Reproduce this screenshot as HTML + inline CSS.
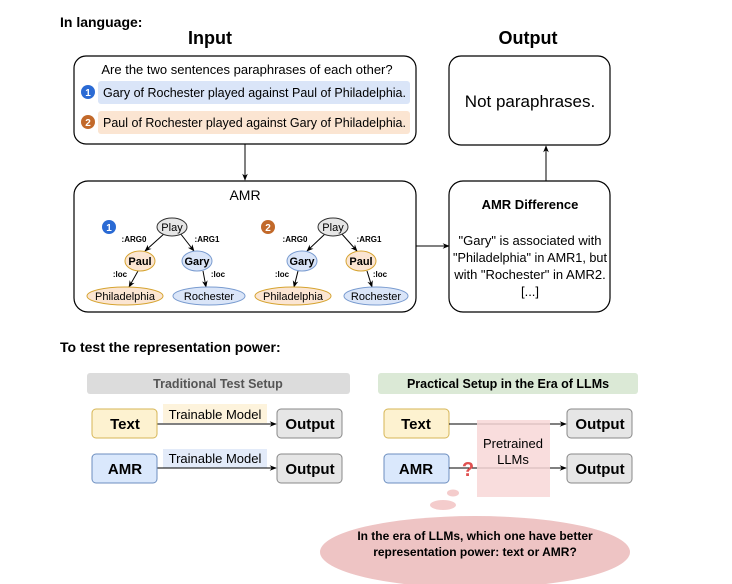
<!DOCTYPE html>
<html><head><meta charset="utf-8"><style>
body{margin:0;background:#fff;width:732px;height:584px;overflow:hidden}
svg{display:block}
text{font-family:"Liberation Sans",Arial,sans-serif;fill:#000}
.b{font-weight:bold}
</style></head><body>
<svg width="732" height="584" viewBox="0 0 732 584" xmlns="http://www.w3.org/2000/svg">
<defs>
<marker id="a" viewBox="0 0 10 10" refX="9" refY="5" markerWidth="7" markerHeight="7" orient="auto"><path d="M0,1 L10,5 L0,9 L3,5z" fill="#000"/></marker>
</defs>
<text x="60" y="27" font-size="14" class="b">In language:</text>
<text x="210" y="44" font-size="18" class="b" text-anchor="middle">Input</text>
<text x="528" y="44" font-size="18" class="b" text-anchor="middle">Output</text>

<rect x="74" y="56" width="342" height="88" rx="12" fill="#fff" stroke="#000" stroke-width="1.2"/>
<text x="247" y="74" font-size="13" text-anchor="middle">Are the two sentences paraphrases of each other?</text>
<rect x="98" y="81" width="312" height="23" rx="3" fill="#dae5f8"/>
<rect x="98" y="111" width="312" height="23" rx="3" fill="#fbe5d2"/>
<circle cx="88" cy="92" r="7" fill="#2a6ad4"/><text x="88" y="96" font-size="10" class="b" text-anchor="middle" style="fill:#fff">1</text>
<circle cx="88" cy="122" r="7" fill="#c2692a"/><text x="88" y="126" font-size="10" class="b" text-anchor="middle" style="fill:#fff">2</text>
<text x="103" y="97" font-size="13" textLength="303" lengthAdjust="spacingAndGlyphs">Gary of Rochester played against Paul of Philadelphia.</text>
<text x="103" y="127" font-size="13" textLength="303" lengthAdjust="spacingAndGlyphs">Paul of Rochester played against Gary of Philadelphia.</text>

<line x1="245" y1="144" x2="245" y2="180" stroke="#000" marker-end="url(#a)"/>

<rect x="449" y="56" width="161" height="89" rx="12" fill="#fff" stroke="#000" stroke-width="1.2"/>
<text x="530" y="107" font-size="17" text-anchor="middle">Not paraphrases.</text>
<line x1="546" y1="181" x2="546" y2="146" stroke="#000" marker-end="url(#a)"/>

<rect x="74" y="181" width="342" height="131" rx="14" fill="#fff" stroke="#000" stroke-width="1.2"/>
<text x="245" y="200" font-size="14" text-anchor="middle">AMR</text>
<line x1="416" y1="246" x2="449" y2="246" stroke="#000" marker-end="url(#a)"/>

<rect x="449" y="181" width="161" height="131" rx="14" fill="#fff" stroke="#000" stroke-width="1.2"/>
<text x="530" y="209" font-size="13" class="b" text-anchor="middle">AMR Difference</text>
<g font-size="13" text-anchor="middle">
<text x="530" y="245">"Gary" is associated with</text>
<text x="530" y="262" textLength="154" lengthAdjust="spacingAndGlyphs">"Philadelphia" in AMR1, but</text>
<text x="530" y="279">with "Rochester" in AMR2.</text>
<text x="530" y="296">[...]</text>
</g>

<g stroke="#000" stroke-width="1">
<line x1="165" y1="233" x2="145" y2="251" marker-end="url(#a)"/>
<line x1="180" y1="233" x2="194" y2="251" marker-end="url(#a)"/>
<line x1="138" y1="271" x2="129" y2="287" marker-end="url(#a)"/>
<line x1="203" y1="271" x2="206" y2="287" marker-end="url(#a)"/>
<line x1="326" y1="233" x2="307" y2="251" marker-end="url(#a)"/>
<line x1="341" y1="233" x2="357" y2="251" marker-end="url(#a)"/>
<line x1="298" y1="271" x2="294" y2="287" marker-end="url(#a)"/>
<line x1="367" y1="271" x2="372" y2="287" marker-end="url(#a)"/>
</g>
<circle cx="109" cy="227" r="7" fill="#2a6ad4"/><text x="109" y="231" font-size="10" class="b" text-anchor="middle" style="fill:#fff">1</text>
<circle cx="268" cy="227" r="7" fill="#c2692a"/><text x="268" y="231" font-size="10" class="b" text-anchor="middle" style="fill:#fff">2</text>
<g stroke-width="1">
<ellipse cx="172" cy="227" rx="15" ry="9" fill="#e6e6e6" stroke="#333"/>
<ellipse cx="333" cy="227" rx="15" ry="9" fill="#e6e6e6" stroke="#333"/>
<ellipse cx="140" cy="261" rx="15" ry="10" fill="#fbe5d2" stroke="#d6a431"/>
<ellipse cx="197" cy="261" rx="15" ry="10" fill="#dae5f8" stroke="#7a9cd0"/>
<ellipse cx="302" cy="261" rx="15" ry="10" fill="#dae5f8" stroke="#7a9cd0"/>
<ellipse cx="361" cy="261" rx="15" ry="10" fill="#fbe5d2" stroke="#d6a431"/>
<ellipse cx="125" cy="296" rx="38" ry="9" fill="#fbe5d2" stroke="#d6a431"/>
<ellipse cx="209" cy="296" rx="36" ry="9" fill="#dae5f8" stroke="#7a9cd0"/>
<ellipse cx="293" cy="296" rx="38" ry="9" fill="#fbe5d2" stroke="#d6a431"/>
<ellipse cx="376" cy="296" rx="32" ry="9" fill="#dae5f8" stroke="#7a9cd0"/>
</g>
<g font-size="11" text-anchor="middle">
<text x="172" y="231">Play</text><text x="333" y="231">Play</text>
<text x="140" y="265" class="b">Paul</text><text x="197" y="265" class="b">Gary</text>
<text x="302" y="265" class="b">Gary</text><text x="361" y="265" class="b">Paul</text>
<text x="125" y="300">Philadelphia</text><text x="209" y="300">Rochester</text>
<text x="293" y="300">Philadelphia</text><text x="376" y="300">Rochester</text>
</g>
<g font-size="8" class="b" text-anchor="middle">
<text x="134" y="242">:ARG0</text><text x="207" y="242">:ARG1</text>
<text x="295" y="242">:ARG0</text><text x="369" y="242">:ARG1</text>
<text x="120" y="277">:loc</text><text x="218" y="277">:loc</text>
<text x="282" y="277">:loc</text><text x="380" y="277">:loc</text>
</g>

<text x="60" y="352" font-size="14" class="b">To test the representation power:</text>
<rect x="87" y="373" width="263" height="21" rx="3" fill="#dcdcdc"/>
<text x="218" y="388" font-size="12.5" class="b" text-anchor="middle" style="fill:#555">Traditional Test Setup</text>
<rect x="378" y="373" width="260" height="21" rx="3" fill="#dbe9d6"/>
<text x="508" y="388" font-size="12.5" class="b" text-anchor="middle">Practical Setup in the Era of LLMs</text>

<rect x="163" y="404" width="104" height="19" fill="#fdf3dc"/>
<rect x="163" y="449" width="104" height="19" fill="#e3ebf9"/>
<text x="215" y="419" font-size="13" text-anchor="middle">Trainable Model</text>
<text x="215" y="463" font-size="13" text-anchor="middle">Trainable Model</text>
<line x1="157" y1="424" x2="276" y2="424" stroke="#000" marker-end="url(#a)"/>
<line x1="157" y1="468" x2="276" y2="468" stroke="#000" marker-end="url(#a)"/>
<rect x="92" y="409" width="65" height="29" rx="4" fill="#fdf2d0" stroke="#d6b656"/>
<rect x="92" y="454" width="65" height="29" rx="4" fill="#dae8fc" stroke="#6c8ebf"/>
<rect x="277" y="409" width="65" height="29" rx="4" fill="#e6e6e6" stroke="#888"/>
<rect x="277" y="454" width="65" height="29" rx="4" fill="#e6e6e6" stroke="#888"/>
<g font-size="15" class="b" text-anchor="middle">
<text x="125" y="429">Text</text><text x="125" y="474">AMR</text>
<text x="310" y="429">Output</text><text x="310" y="474">Output</text>
</g>

<rect x="384" y="409" width="65" height="29" rx="4" fill="#fdf2d0" stroke="#d6b656"/>
<rect x="384" y="454" width="65" height="29" rx="4" fill="#dae8fc" stroke="#6c8ebf"/>
<rect x="567" y="409" width="65" height="29" rx="4" fill="#e6e6e6" stroke="#888"/>
<rect x="567" y="454" width="65" height="29" rx="4" fill="#e6e6e6" stroke="#888"/>
<line x1="449" y1="424" x2="566" y2="424" stroke="#000" marker-end="url(#a)"/>
<line x1="449" y1="468" x2="566" y2="468" stroke="#000" marker-end="url(#a)"/>
<rect x="477" y="420" width="73" height="77" fill="#f8d7d7" opacity="0.85"/>
<text x="513" y="448" font-size="13" text-anchor="middle">Pretrained</text>
<text x="513" y="464" font-size="13" text-anchor="middle">LLMs</text>
<g font-size="15" class="b" text-anchor="middle">
<text x="416" y="429">Text</text><text x="416" y="474">AMR</text>
<text x="600" y="429">Output</text><text x="600" y="474">Output</text>
</g>
<text x="468" y="476" font-size="20" class="b" text-anchor="middle" style="fill:#e05050">?</text>

<ellipse cx="453" cy="493" rx="6" ry="3.5" fill="#f4cccc"/>
<ellipse cx="443" cy="505" rx="13" ry="5" fill="#f4cccc"/>
<ellipse cx="475" cy="552" rx="155" ry="36" fill="#eec4c4"/>
<text x="475" y="540" font-size="12" class="b" text-anchor="middle">In the era of LLMs, which one have better</text>
<text x="475" y="556" font-size="12" class="b" text-anchor="middle">representation power: text or AMR?</text>
</svg>
</body></html>
